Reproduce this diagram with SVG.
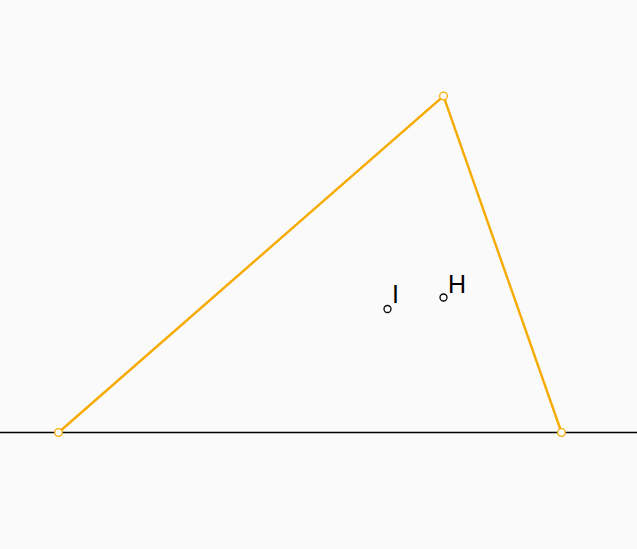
<svg xmlns="http://www.w3.org/2000/svg" width="637" height="549" viewBox="0 0 637 549">
<style>
.edge{stroke:#f5ab00;stroke-width:2.4;fill:none;stroke-linecap:round}
.vtx{fill:#ffffff;stroke:#f5ab00;stroke-width:1.3}
.pt{fill:#ffffff;stroke:#000;stroke-width:1.3}
.lbl{font-family:"Liberation Sans",Arial,sans-serif;font-size:25px;fill:#000}
</style>
<rect width="637" height="549" fill="#fafafa"/>
<g id="connectors">
<line x1="0" y1="432.5" x2="637" y2="432.5" stroke="#000" stroke-width="1.4"/>
<path class="edge" d="M58.5,432.5 L443.5,96 L561.5,432.5"/>
</g>
<g id="A"><circle class="vtx" cx="58.5" cy="432.5" r="3.8"/></g>
<g id="B"><circle class="vtx" cx="443.5" cy="96" r="3.8"/></g>
<g id="C"><circle class="vtx" cx="561.5" cy="432.5" r="3.8"/></g>
<g id="I"><circle class="pt" cx="387.5" cy="309" r="3.5"/><text class="lbl" x="392" y="303">I</text></g>
<g id="H"><circle class="pt" cx="443.5" cy="297.5" r="3.5"/><text class="lbl" x="448" y="293">H</text></g>
</svg>
